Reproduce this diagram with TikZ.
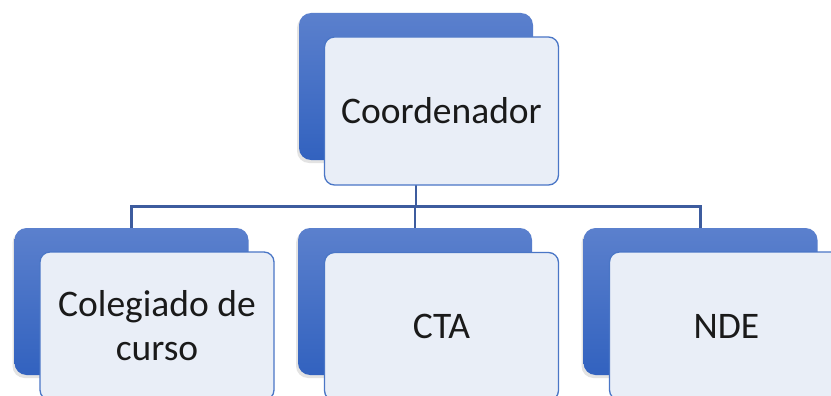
\documentclass[tikz,border=0pt]{standalone}
\usepackage{fontspec}
\setmainfont{Carlito}
\usetikzlibrary{shadows}
\definecolor{backtop}{HTML}{5B80CD}
\definecolor{backbot}{HTML}{3262BF}
\definecolor{frontfill}{HTML}{E9EEF7}
\definecolor{frontline}{HTML}{4A76C6}
\definecolor{linkcol}{HTML}{3D5C9E}
\definecolor{txt}{HTML}{1A1A1A}
\tikzset{
  backbox/.style={rectangle, rounded corners=12pt, minimum width=234pt, minimum height=147pt,
    inner sep=0pt, draw=none, top color=backtop, bottom color=backbot,
    drop shadow={shadow xshift=-2pt, shadow yshift=-3pt, opacity=0.22}},
  frontbox/.style={rectangle, rounded corners=10pt, minimum width=234pt, minimum height=148pt,
    inner sep=0pt, draw=frontline, line width=1.3pt, fill=frontfill,
    text=txt, align=center, font=\fontsize{37.5}{44}\selectfont},
  link/.style={draw=linkcol, line width=2.3pt}
}
\begin{document}
\begin{tikzpicture}[x=1pt, y=-1pt]
\useasboundingbox (0,0) rectangle (831,396);
\fill[white] (0,0) rectangle (831,396);
% coloured back plates
\node[backbox] (topback) at (416,86.5) {};
\node[backbox] (leftback) at (131.5,301.5) {};
\node[backbox] (midback) at (415,301.5) {};
\node[backbox] (rightback) at (700.5,301.5) {};
% connectors of the org chart
\coordinate (bar) at (416,206.5);
\draw[link] (topback.south) -- (topback.south |- bar);
\draw[link] (leftback.north) -- (leftback.north |- bar) -- (rightback.north |- bar) -- (rightback.north);
\draw[link] (midback.north |- bar) -- (midback.north);
% front cards with labels
\node[frontbox] (top) at (441.5,111) {Coordenador};
\node[frontbox] (left) at (157,326) {Colegiado de\\curso};
\node[frontbox] (mid) at (441.5,326.5) {CTA};
\node[frontbox] (right) at (726.5,326) {NDE};
\end{tikzpicture}
\end{document}
